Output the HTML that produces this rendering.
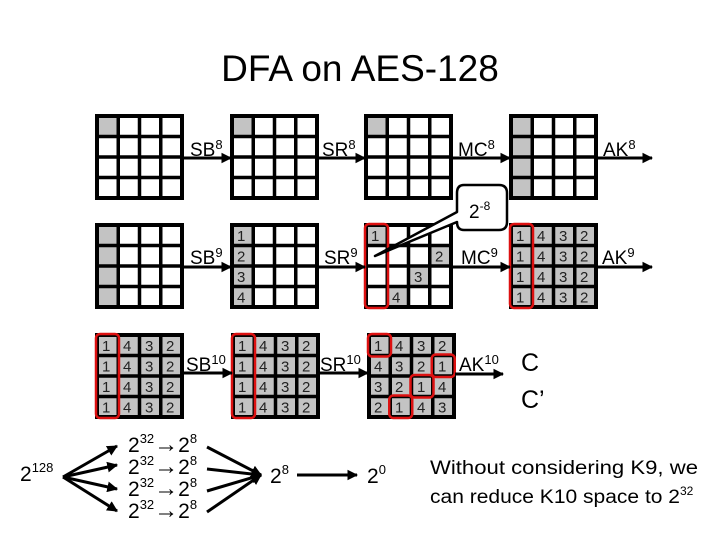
<!DOCTYPE html>
<html><head><meta charset="utf-8"><style>
html,body{margin:0;padding:0;background:#fff}
svg{display:block}
text{font-family:"Liberation Sans",sans-serif;fill:#000}
.n{font-size:15px;fill:#222}
.l{font-size:19px}
</style></head><body>
<svg width="720" height="540" viewBox="0 0 720 540" xmlns="http://www.w3.org/2000/svg">
<defs>
<marker id="a" viewBox="0 0 10 10" refX="9" refY="5" markerWidth="3.6" markerHeight="3.6" orient="auto"><path d="M0,0 L10,5 L0,10 z" fill="#000"/></marker>
<g id="grid"><path d="M21.25,0V82M42.5,0V82M63.75,0V82M0,20.5H85M0,41H85M0,61.5H85" stroke="#000" stroke-width="3.5" fill="none"/><rect x="0" y="0" width="85" height="82" stroke="#000" stroke-width="4" fill="none"/></g>
<g id="col0"><rect x="0" y="0" width="21.25" height="82" fill="#c3c3c3"/></g>
<g id="full"><rect x="0" y="0" width="85" height="82" fill="#c3c3c3"/></g>
</defs>

<text x="360" y="81" font-size="37" text-anchor="middle">DFA on AES-128</text>

<!-- Row 1 -->
<g transform="translate(97,116)"><rect width="21.25" height="20.5" fill="#c3c3c3"/><use href="#grid"/></g>
<g transform="translate(232,116)"><rect width="21.25" height="20.5" fill="#c3c3c3"/><use href="#grid"/></g>
<g transform="translate(366,116)"><rect width="21.25" height="20.5" fill="#c3c3c3"/><use href="#grid"/></g>
<g transform="translate(511,116)"><use href="#col0"/><use href="#grid"/></g>
<g stroke="#000" stroke-width="3" marker-end="url(#a)">
<line x1="183" y1="158" x2="231" y2="158"/><line x1="318" y1="158" x2="365" y2="158"/>
<line x1="452" y1="158" x2="510" y2="158"/><line x1="597" y1="158" x2="652" y2="158"/>
</g>
<text x="190" y="156" class="l">SB<tspan font-size="13" dy="-7">8</tspan></text>
<text x="322" y="156" class="l">SR<tspan font-size="13" dy="-7">8</tspan></text>
<text x="458" y="156" class="l">MC<tspan font-size="13" dy="-7">8</tspan></text>
<text x="603" y="156" class="l">AK<tspan font-size="13" dy="-7">8</tspan></text>

<!-- Row 2 -->
<g transform="translate(97,225)"><use href="#col0"/><use href="#grid"/></g>
<g transform="translate(232,225)"><use href="#col0"/><use href="#grid"/>
<text class="n" x="5" y="16">1</text><text class="n" x="5" y="36.5">2</text><text class="n" x="5" y="57">3</text><text class="n" x="5" y="77.5">4</text></g>
<g transform="translate(366,225)">
<rect x="0" y="0" width="21.25" height="20.5" fill="#c3c3c3"/><rect x="63.75" y="20.5" width="21.25" height="20.5" fill="#c3c3c3"/><rect x="42.5" y="41" width="21.25" height="20.5" fill="#c3c3c3"/><rect x="21.25" y="61.5" width="21.25" height="20.5" fill="#c3c3c3"/>
<use href="#grid"/>
<text class="n" x="5" y="16">1</text><text class="n" x="69" y="36.5">2</text><text class="n" x="48" y="57">3</text><text class="n" x="26" y="77.5">4</text>
<rect x="-1" y="-1" width="23" height="84" rx="4" fill="none" stroke="#d11" stroke-width="2.5"/>
</g>
<g transform="translate(511,225)"><use href="#full"/><use href="#grid"/>
<text class="n" x="5" y="16">1</text><text class="n" x="26" y="16">4</text><text class="n" x="48" y="16">3</text><text class="n" x="69" y="16">2</text>
<text class="n" x="5" y="36.5">1</text><text class="n" x="26" y="36.5">4</text><text class="n" x="48" y="36.5">3</text><text class="n" x="69" y="36.5">2</text>
<text class="n" x="5" y="57">1</text><text class="n" x="26" y="57">4</text><text class="n" x="48" y="57">3</text><text class="n" x="69" y="57">2</text>
<text class="n" x="5" y="77.5">1</text><text class="n" x="26" y="77.5">4</text><text class="n" x="48" y="77.5">3</text><text class="n" x="69" y="77.5">2</text>
<rect x="-1" y="-1" width="23" height="84" rx="4" fill="none" stroke="#d11" stroke-width="2.5"/>
</g>
<g stroke="#000" stroke-width="3" marker-end="url(#a)">
<line x1="183" y1="267" x2="231" y2="267"/><line x1="318" y1="267" x2="365" y2="267"/>
<line x1="452" y1="267" x2="510" y2="267"/><line x1="597" y1="267" x2="652" y2="267"/>
</g>
<text x="190" y="264" class="l">SB<tspan font-size="13" dy="-7">9</tspan></text>
<text x="324" y="264" class="l">SR<tspan font-size="13" dy="-7">9</tspan></text>
<text x="461" y="264" class="l">MC<tspan font-size="13" dy="-7">9</tspan></text>
<text x="602" y="264" class="l">AK<tspan font-size="13" dy="-7">9</tspan></text>

<!-- callout -->
<path d="M464,185 H499 Q507,185 507,193 V222 Q507,230 499,230 H464 Q457,230 457,222 L375,256 L457,212 V193 Q457,185 464,185 Z" fill="#fff" stroke="#000" stroke-width="2.5" stroke-linejoin="round"/>
<text x="469" y="218" font-size="19">2<tspan font-size="12" dy="-8">-8</tspan></text>

<!-- Row 3 -->
<g transform="translate(97,335)"><use href="#full"/><use href="#grid"/>
<text class="n" x="5" y="16">1</text><text class="n" x="26" y="16">4</text><text class="n" x="48" y="16">3</text><text class="n" x="69" y="16">2</text>
<text class="n" x="5" y="36.5">1</text><text class="n" x="26" y="36.5">4</text><text class="n" x="48" y="36.5">3</text><text class="n" x="69" y="36.5">2</text>
<text class="n" x="5" y="57">1</text><text class="n" x="26" y="57">4</text><text class="n" x="48" y="57">3</text><text class="n" x="69" y="57">2</text>
<text class="n" x="5" y="77.5">1</text><text class="n" x="26" y="77.5">4</text><text class="n" x="48" y="77.5">3</text><text class="n" x="69" y="77.5">2</text>
<rect x="-1" y="-1" width="23" height="84" rx="4" fill="none" stroke="#d11" stroke-width="2.5"/>
</g>
<g transform="translate(233,335)"><use href="#full"/><use href="#grid"/>
<text class="n" x="5" y="16">1</text><text class="n" x="26" y="16">4</text><text class="n" x="48" y="16">3</text><text class="n" x="69" y="16">2</text>
<text class="n" x="5" y="36.5">1</text><text class="n" x="26" y="36.5">4</text><text class="n" x="48" y="36.5">3</text><text class="n" x="69" y="36.5">2</text>
<text class="n" x="5" y="57">1</text><text class="n" x="26" y="57">4</text><text class="n" x="48" y="57">3</text><text class="n" x="69" y="57">2</text>
<text class="n" x="5" y="77.5">1</text><text class="n" x="26" y="77.5">4</text><text class="n" x="48" y="77.5">3</text><text class="n" x="69" y="77.5">2</text>
<rect x="-1" y="-1" width="23" height="84" rx="4" fill="none" stroke="#d11" stroke-width="2.5"/>
</g>
<g transform="translate(369,335)"><use href="#full"/><use href="#grid"/>
<text class="n" x="5" y="16">1</text><text class="n" x="26" y="16">4</text><text class="n" x="48" y="16">3</text><text class="n" x="69" y="16">2</text>
<text class="n" x="5" y="36.5">4</text><text class="n" x="26" y="36.5">3</text><text class="n" x="48" y="36.5">2</text><text class="n" x="69" y="36.5">1</text>
<text class="n" x="5" y="57">3</text><text class="n" x="26" y="57">2</text><text class="n" x="48" y="57">1</text><text class="n" x="69" y="57">4</text>
<text class="n" x="5" y="77.5">2</text><text class="n" x="26" y="77.5">1</text><text class="n" x="48" y="77.5">4</text><text class="n" x="69" y="77.5">3</text>
<g fill="none" stroke="#d11" stroke-width="2.5">
<rect x="-1" y="-1" width="23" height="22.5" rx="4"/><rect x="62.75" y="19.5" width="23" height="22.5" rx="4"/>
<rect x="41.5" y="40" width="23" height="22.5" rx="4"/><rect x="20.25" y="60.5" width="23" height="22.5" rx="4"/></g>
</g>
<g stroke="#000" stroke-width="3" marker-end="url(#a)">
<line x1="183" y1="373" x2="232" y2="373"/><line x1="319" y1="373" x2="368" y2="373"/>
<line x1="455" y1="374" x2="503" y2="374"/>
</g>
<text x="186" y="371" class="l">SB<tspan font-size="13" dy="-7">10</tspan></text>
<text x="320" y="371" class="l">SR<tspan font-size="13" dy="-7">10</tspan></text>
<text x="459" y="371" class="l">AK<tspan font-size="13" dy="-7">10</tspan></text>
<text x="521" y="371" font-size="25">C</text>
<text x="521" y="408" font-size="25">C’</text>

<!-- bottom -->
<text x="20" y="481" font-size="21">2<tspan font-size="13" dy="-9">128</tspan></text>
<g stroke="#000" stroke-width="3" marker-end="url(#a)">
<line x1="63" y1="477" x2="117" y2="446"/><line x1="63" y1="477" x2="117" y2="465"/>
<line x1="63" y1="477" x2="117" y2="489"/><line x1="63" y1="477" x2="117" y2="511"/>
<line x1="207" y1="447" x2="261" y2="475"/><line x1="207" y1="469" x2="261" y2="475"/>
<line x1="207" y1="491" x2="261" y2="475"/><line x1="207" y1="512" x2="261" y2="475"/>
<line x1="297" y1="475" x2="357" y2="475"/>
</g>
<g font-size="21">
<text x="128" y="452">2<tspan font-size="13" dy="-9">32</tspan><tspan dy="9" font-size="24">→</tspan><tspan>2</tspan><tspan font-size="13" dy="-9">8</tspan></text>
<text x="128" y="474">2<tspan font-size="13" dy="-9">32</tspan><tspan dy="9" font-size="24">→</tspan><tspan>2</tspan><tspan font-size="13" dy="-9">8</tspan></text>
<text x="128" y="496">2<tspan font-size="13" dy="-9">32</tspan><tspan dy="9" font-size="24">→</tspan><tspan>2</tspan><tspan font-size="13" dy="-9">8</tspan></text>
<text x="128" y="518">2<tspan font-size="13" dy="-9">32</tspan><tspan dy="9" font-size="24">→</tspan><tspan>2</tspan><tspan font-size="13" dy="-9">8</tspan></text>
<text x="270" y="483">2<tspan font-size="13" dy="-9">8</tspan></text>
<text x="367" y="483">2<tspan font-size="13" dy="-9">0</tspan></text>
</g>
<text x="430" y="474" font-size="19" textLength="268" lengthAdjust="spacingAndGlyphs">Without considering K9, we</text>
<text x="430" y="503" font-size="19"><tspan textLength="250" lengthAdjust="spacingAndGlyphs">can reduce K10 space to 2</tspan><tspan font-size="12" dy="-8">32</tspan></text>
</svg>
</body></html>
